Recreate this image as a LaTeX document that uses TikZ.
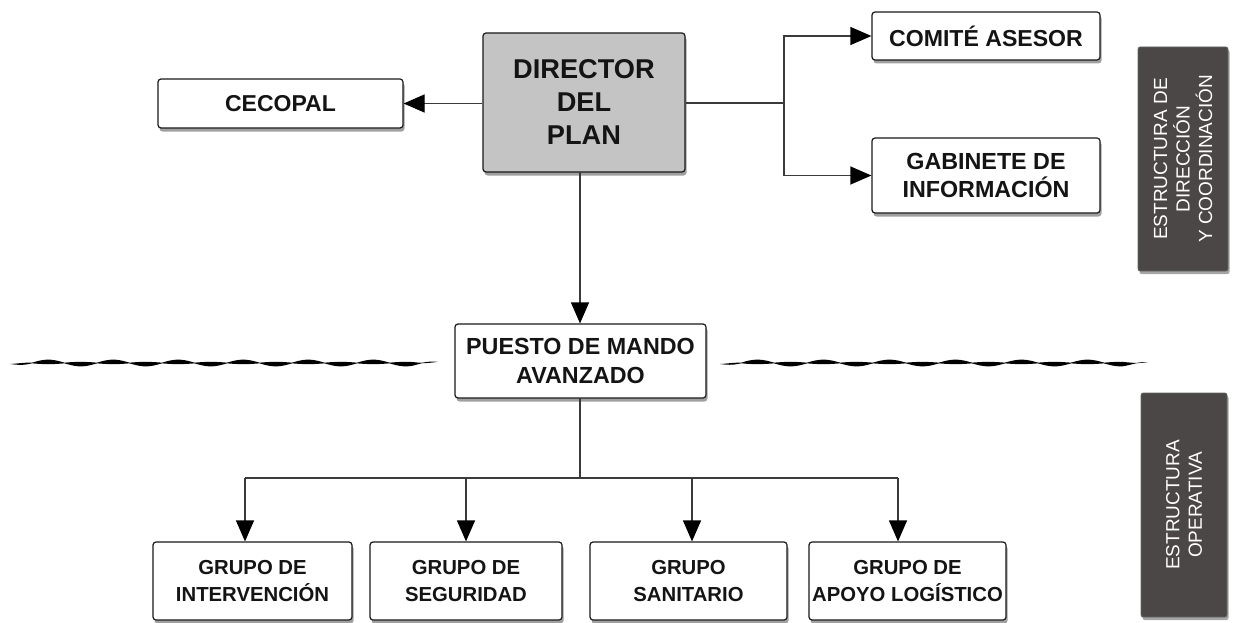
\documentclass[tikz,border=0pt]{standalone}
\usepackage{fontspec}
\setmainfont{Liberation Sans}
\usetikzlibrary{shadows,arrows.meta}
\definecolor{dirgray}{HTML}{C4C4C4}
\definecolor{darkbox}{HTML}{4A4746}
\definecolor{linegray}{HTML}{3A3A3A}
\tikzset{
  box/.style={draw=black!90, line width=1.2pt, rounded corners=3pt, fill=white,
    align=center, inner sep=0pt, text=black!92,
    drop shadow={shadow xshift=1.5pt, shadow yshift=-3.5pt, opacity=0.75}},
  sidebox/.style={draw=black!60, line width=0.6pt, rounded corners=2pt, fill=darkbox,
    align=center, inner sep=0pt, text=white,
    drop shadow={shadow xshift=1.5pt, shadow yshift=-3pt, opacity=0.7}},
  conn/.style={draw=linegray, line width=1.2pt},
  arr/.style={conn, -{Triangle[length=21pt, width=18pt, fill=black, color=black]}},
  wave/.style={fill=black}
}
\begin{document}
\begin{tikzpicture}[x=1pt, y=-1pt]
\useasboundingbox (0,0) rectangle (1233,623);

% top level
\node[box, fill=dirgray, minimum width=202pt, minimum height=139pt,
  font=\bfseries\fontsize{27.2}{33}\selectfont] (dir) at (584,102.5) {DIRECTOR\\DEL\\PLAN};
\node[box, minimum width=245pt, minimum height=49pt,
  font=\bfseries\fontsize{23}{28}\selectfont] (cec) at (280.5,103.5) {CECOPAL};
\node[box, minimum width=228pt, minimum height=48pt,
  font=\bfseries\fontsize{23.1}{28}\selectfont] (com) at (986,36) {COMITÉ ASESOR};
\node[box, minimum width=228pt, minimum height=75pt,
  font=\bfseries\fontsize{23.3}{28}\selectfont] (gab) at (986,175.5) {GABINETE DE\\INFORMACIÓN};

% side labels
\node[sidebox, minimum width=90pt, minimum height=224pt] (s1) at (1183,159) {};
\node[rotate=90, text=white, align=center, font=\fontsize{19}{22.5}\selectfont] (s1t) at (s1.center) {ESTRUCTURA DE\\DIRECCIÓN\\Y COORDINACIÓN};
\node[sidebox, minimum width=86pt, minimum height=224pt] (s2) at (1184,505) {};
\node[rotate=90, text=white, align=center, font=\fontsize{19}{22.5}\selectfont] (s2t) at (s2.center) {ESTRUCTURA\\OPERATIVA};

% PMA
\node[box, minimum width=251pt, minimum height=74pt,
  font=\bfseries\fontsize{23.3}{29}\selectfont] (pma) at (580.5,361) {PUESTO DE MANDO\\AVANZADO};

% bottom groups
\tikzset{grp/.style={box, minimum height=78pt, font=\bfseries\fontsize{20.3}{27}\selectfont}}
\node[grp, minimum width=199pt] (g1) at (252.5,581) {GRUPO DE\\INTERVENCIÓN};
\node[grp, minimum width=192pt] (g2) at (466,581) {GRUPO DE\\SEGURIDAD};
\node[grp, minimum width=197pt] (g3) at (688.5,581) {GRUPO\\SANITARIO};
\node[grp, minimum width=197pt] (g4) at (907.5,581) {GRUPO DE\\APOYO LOGÍSTICO};

% connectors top
\draw[arr] (dir.west |- cec.east) -- (cec.east);
\coordinate (jr) at (784,103);
\draw[conn] (dir.east |- jr) -- (jr);
\draw[arr] (jr) |- (com.west);
\draw[arr] (jr) |- (gab.west);
\coordinate (dtop) at (580,172);
\draw[arr] (dtop) -- (dtop |- pma.north);

% connectors bottom
\coordinate (pb) at (580,398);
\coordinate (pj) at (580,478);
\coordinate (a1) at (245,478);
\coordinate (a2) at (466,478);
\coordinate (a3) at (692,478);
\coordinate (a4) at (898,478);
\draw[conn] (pb) -- (pj);
\draw[conn] (a1) -- (a4);
\draw[arr] (a1) -- (a1 |- g1.north);
\draw[arr] (a2) -- (a2 |- g2.north);
\draw[arr] (a3) -- (a3 |- g3.north);
\draw[arr] (a4) -- (a4 |- g4.north);

% wavy separators
\fill[wave] plot[domain=10:438, samples=260, smooth]
  (\x, {363 - 1.1*sin(5.5385*(\x-32)) - (0.35+1.9*abs(sin(5.5385*(\x-32))))*min(1,(\x-10)/25,(438-\x)/25)})
  -- plot[domain=438:10, samples=260, smooth]
  (\x, {363 - 1.1*sin(5.5385*(\x-32)) + (0.35+1.9*abs(sin(5.5385*(\x-32))))*min(1,(\x-10)/25,(438-\x)/25)})
  -- cycle;
\fill[wave] plot[domain=720:1148, samples=260, smooth]
  (\x, {363 - 1.1*sin(5.4545*(\x-741)) - (0.35+1.9*abs(sin(5.4545*(\x-741))))*min(1,(\x-720)/25,(1148-\x)/25)})
  -- plot[domain=1148:720, samples=260, smooth]
  (\x, {363 - 1.1*sin(5.4545*(\x-741)) + (0.35+1.9*abs(sin(5.4545*(\x-741))))*min(1,(\x-720)/25,(1148-\x)/25)})
  -- cycle;
\end{tikzpicture}
\end{document}
